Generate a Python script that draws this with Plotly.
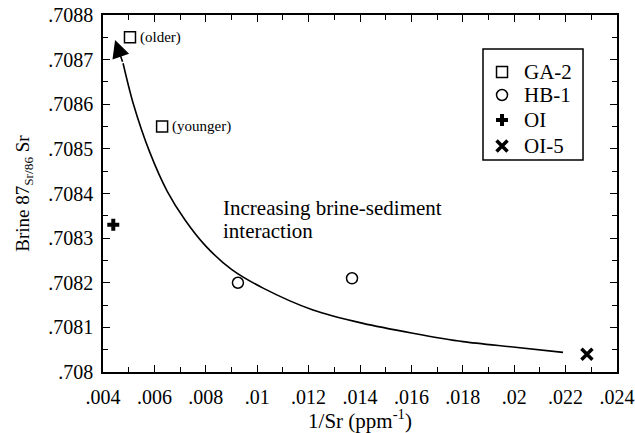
import plotly.graph_objects as go

# Sample measurements: 1/Sr (ppm^-1) and brine 87Sr/86Sr
ga2_x = [0.00505, 0.00630]
ga2_y = [0.70875, 0.70855]
ga2_notes = ["(older)", "(younger)"]
hb1_x = [0.00925, 0.01369]
hb1_y = [0.70820, 0.70821]
oi_x = [0.00440]
oi_y = [0.70833]
oi5_x = [0.02283]
oi5_y = [0.70804]

# Hand-drawn trend curve (brine-sediment interaction)
trend_x = [0.00478, 0.00517, 0.00583, 0.00650, 0.00720, 0.00800, 0.00900,
           0.01023, 0.01217, 0.01412, 0.01606, 0.01801, 0.01995, 0.02190]
trend_y = [0.708692, 0.708603, 0.708491, 0.708405, 0.708340, 0.708282, 0.708230,
           0.708188, 0.708139, 0.708109, 0.708087, 0.708068, 0.708056, 0.708044]
arrow_tip = (0.00447, 0.708744)

x_ticks = [0.004, 0.006, 0.008, 0.010, 0.012, 0.014, 0.016, 0.018, 0.020, 0.022, 0.024]
x_labels = [".004", ".006", ".008", ".01", ".012", ".014", ".016", ".018", ".02", ".022", ".024"]
y_ticks = [0.7080, 0.7081, 0.7082, 0.7083, 0.7084, 0.7085, 0.7086, 0.7087, 0.7088]
y_labels = [".708", ".7081", ".7082", ".7083", ".7084", ".7085", ".7086", ".7087", ".7088"]

# Legend entries (drawn in a boxed key on an overlay axis)
legend_names = ["GA-2", "HB-1", "OI", "OI-5"]
legend_rows = [0.8403, 0.7759, 0.7059, 0.6331]

# Trend caption lines
caption_lines = ["Increasing brine-sediment", "interaction"]
caption_y = [0.708367, 0.708316]

FONT = "Liberation Serif, Times New Roman, serif"

sym = {
    "GA-2": dict(symbol="square-open", size=11, color="black", line=dict(width=1.5)),
    "HB-1": dict(symbol="circle-open", size=11, color="black", line=dict(width=1.5)),
    "OI": dict(symbol="cross", size=10, color="black"),
    "OI-5": dict(symbol="x-thin-open", size=11, color="black", line=dict(width=3.5, color="black")),
}

fig = go.Figure()

fig.add_trace(go.Scatter(
    x=trend_x, y=trend_y, mode="lines",
    line=dict(color="black", width=1.6, shape="spline", smoothing=0.8),
    showlegend=False, hoverinfo="skip"))

for name, xs, ys in [("GA-2", ga2_x, ga2_y), ("HB-1", hb1_x, hb1_y),
                     ("OI", oi_x, oi_y), ("OI-5", oi5_x, oi5_y)]:
    fig.add_trace(go.Scatter(x=xs, y=ys, mode="markers", name=name,
                             marker=sym[name], showlegend=False))

# Key: box, symbols and labels
fig.add_shape(type="rect", xref="paper", yref="paper",
              x0=0.7393, x1=0.9339, y0=0.5938, y1=0.9048,
              line=dict(color="black", width=1.5), fillcolor="rgba(0,0,0,0)")
for name, ry in zip(legend_names, legend_rows):
    fig.add_trace(go.Scatter(x=[0.7763], y=[ry], mode="markers", marker=sym[name],
                             xaxis="x2", yaxis="y2", showlegend=False, hoverinfo="skip",
                             cliponaxis=False))
    fig.add_annotation(x=0.8152, y=ry, xref="paper", yref="paper", text=name,
                       showarrow=False, xanchor="left", yanchor="middle",
                       font=dict(family=FONT, size=21, color="black"))

# Arrow head at the older end of the trend
fig.add_annotation(
    x=arrow_tip[0], y=arrow_tip[1], ax=trend_x[0], ay=trend_y[0],
    xref="x", yref="y", axref="x", ayref="y", text="",
    showarrow=True, arrowhead=2, arrowsize=2.2, arrowwidth=1.6, arrowcolor="black", standoff=0)

# Sample age notes next to the GA-2 squares
for x, y, t in zip(ga2_x, ga2_y, ga2_notes):
    fig.add_annotation(x=x, y=y, text=t, showarrow=False, xanchor="left", xshift=8,
                       font=dict(family=FONT, size=15, color="black"))

for t, y in zip(caption_lines, caption_y):
    fig.add_annotation(x=0.00859, y=y, text=t, showarrow=False,
                       xanchor="left", yanchor="middle",
                       font=dict(family=FONT, size=21, color="black"))

axis_common = dict(
    showline=True, linecolor="black", linewidth=1.5, mirror="allticks",
    ticks="inside", ticklen=7, tickwidth=1.3, tickcolor="black",
    showgrid=False, zeroline=False, automargin=False,
    tickfont=dict(family=FONT, size=20, color="black"),
)

xaxis_cfg = dict(
    range=[0.004, 0.024], tickvals=x_ticks, ticktext=x_labels, ticklabelstandoff=6,
    minor=dict(dtick=0.001, ticks="inside", ticklen=5, tickwidth=1.3, tickcolor="black"),
    title=dict(text="1/Sr (ppm<sup>-1</sup>)", font=dict(family=FONT, size=21, color="black"),
               standoff=4),
    **axis_common)
yaxis_cfg = dict(
    range=[0.7080, 0.7088], tickvals=y_ticks, ticktext=y_labels, ticklabelstandoff=4,
    minor=dict(dtick=0.00005, ticks="inside", ticklen=5, tickwidth=1.3, tickcolor="black"),
    title=dict(text="Brine 87<sub>Sr/86</sub> Sr", font=dict(family=FONT, size=19, color="black"),
               standoff=14),
    **axis_common)

fig.update_layout(
    width=635, height=433,
    margin=dict(l=103, r=18, t=15, b=61),
    paper_bgcolor="white", plot_bgcolor="white",
    font=dict(family=FONT, size=20, color="black"),
    showlegend=False,
    xaxis=xaxis_cfg,
    yaxis=yaxis_cfg,
    xaxis2=dict(overlaying="x", range=[0, 1], visible=False, fixedrange=True),
    yaxis2=dict(overlaying="y", range=[0, 1], visible=False, fixedrange=True),
)

fig.write_html("out.html")
